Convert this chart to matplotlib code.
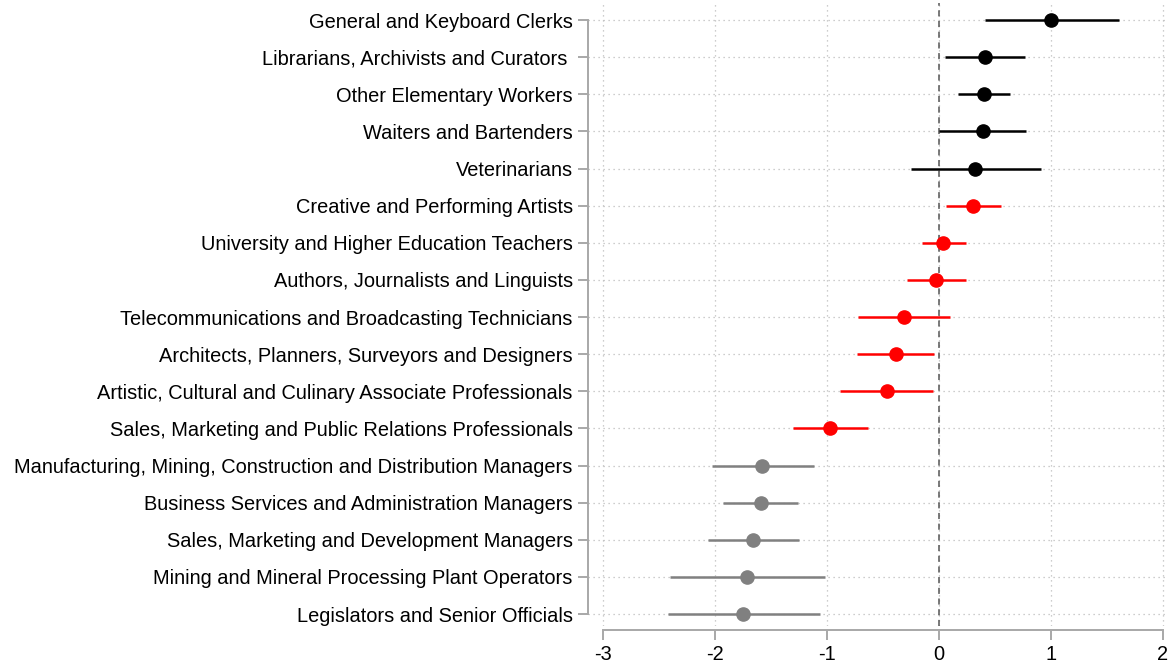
import numpy as np
import matplotlib.pyplot as plt

plt.rcParams['font.family'] = ['Liberation Sans', 'DejaVu Sans']

occupations = [
    'General and Keyboard Clerks',
    'Librarians, Archivists and Curators ',
    'Other Elementary Workers',
    'Waiters and Bartenders',
    'Veterinarians',
    'Creative and Performing Artists',
    'University and Higher Education Teachers',
    'Authors, Journalists and Linguists',
    'Telecommunications and Broadcasting Technicians',
    'Architects, Planners, Surveyors and Designers',
    'Artistic, Cultural and Culinary Associate Professionals',
    'Sales, Marketing and Public Relations Professionals',
    'Manufacturing, Mining, Construction and Distribution Managers',
    'Business Services and Administration Managers',
    'Sales, Marketing and Development Managers',
    'Mining and Mineral Processing Plant Operators',
    'Legislators and Senior Officials',
]
coef = [1.00, 0.41, 0.40, 0.39, 0.32, 0.30, 0.04, -0.03, -0.31, -0.38, -0.46,
        -0.97, -1.58, -1.59, -1.66, -1.71, -1.75]
ci_low = [0.41, 0.05, 0.17, 0.00, -0.25, 0.06, -0.15, -0.29, -0.72, -0.73, -0.88,
          -1.30, -2.03, -1.93, -2.06, -2.40, -2.42]
ci_high = [1.61, 0.77, 0.63, 0.78, 0.91, 0.55, 0.24, 0.24, 0.10, -0.04, -0.05,
           -0.63, -1.12, -1.26, -1.25, -1.02, -1.06]
group = ['pos'] * 5 + ['mid'] * 7 + ['neg'] * 5
group_colors = {'pos': 'black', 'mid': '#ff0000', 'neg': '#808080'}

fig = plt.figure(figsize=(11.74, 6.65), dpi=100)
ax = fig.add_axes([588 / 1174, 1 - 626 / 665, 580 / 1174, 623 / 665])

y = np.arange(len(occupations))
for i in y:
    c = group_colors[group[i]]
    ax.plot([ci_low[i], ci_high[i]], [i, i], color=c, lw=1.8, zorder=3,
            solid_capstyle='butt')
    ax.plot(coef[i], i, 'o', color=c, ms=9.5, zorder=4)

ax.axvline(0, color='#555555', lw=1.1, ls=(0, (4, 3)), zorder=2)

ax.set_xlim(-3.134, 2.045)
ax.set_ylim(len(occupations) - 1 + 0.32, -0.46)
ax.set_xticks(np.arange(-3, 3))
ax.set_xticklabels(['-3', '-2', '-1', '0', '1', '2'])
ax.set_yticks(y)
ax.set_yticklabels(occupations)

ax.grid(True, color='#bdbdbd', lw=0.9, ls=(0, (1, 3)), zorder=0)

for s in ['top', 'right']:
    ax.spines[s].set_visible(False)
ax.spines['left'].set_bounds(0, len(occupations) - 1)
ax.spines['bottom'].set_bounds(-3, 2)
ax.spines['bottom'].set_position(('outward', 3))
for s in ['left', 'bottom']:
    ax.spines[s].set_color('#a8a8a8')
    ax.spines[s].set_linewidth(1.4)

ax.tick_params(axis='both', colors='#a8a8a8', width=1.4, length=7,
               labelcolor='black', labelsize=14.4)
ax.tick_params(axis='y', pad=4)
ax.tick_params(axis='x', pad=4)

fig.savefig('out.png', dpi=100)
